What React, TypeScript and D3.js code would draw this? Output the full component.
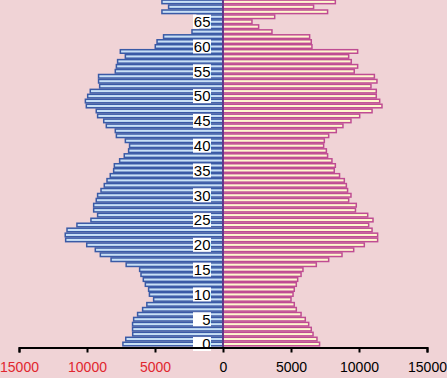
import { useEffect, useRef } from "react";
import * as d3 from "d3";

// ages 0..69, bottom to top
const ages = d3.range(0, 70);

const male = [
  7360, 7150, 6640, 6650, 6650, 6570, 6280, 5910, 5600, 5100,
  5410, 5470, 5710, 5860, 6030, 6130, 7120, 8230, 9020, 9390,
  10020, 11570, 11600, 11470, 10740, 9710, 9220, 9510, 9510, 9320,
  9220, 8970, 8730, 8530, 8290, 8040, 7990, 7600, 7260, 6940,
  6870, 7180, 7840, 7920, 8580, 8770, 9220, 9320, 10050, 10120,
  9950, 9760, 9070, 9150, 9150, 7920, 7840, 7750, 7180, 7550,
  4980, 4850, 4370, 2280, 1700, 1600, 1900, 4490, 4000, 4490,
];

const female = [
  7100, 6910, 6620, 6490, 6300, 6050, 5740, 5390, 5240, 5000,
  5150, 5240, 5390, 5490, 5740, 5880, 6860, 7770, 8750, 9610,
  10390, 11370, 11370, 10960, 10710, 11030, 10640, 9740, 9800, 9240,
  9410, 9160, 9070, 8920, 8570, 8180, 8260, 8010, 7690, 7600,
  7400, 7450, 7770, 8330, 8820, 9410, 10050, 10960, 11690, 11520,
  11270, 11270, 10880, 11320, 11130, 9650, 9900, 9430, 9240, 9900,
  6540, 6490, 6370, 3600, 2620, 2130, 3800, 7690, 6660, 8260,
];

const xTicks = [-15000, -10000, -5000, 0, 5000, 10000, 15000];
const ageLabels = [0, 5, 10, 15, 20, 25, 30, 35, 40, 45, 50, 55, 60, 65];

const W = 447;
const H = 378;

const Pyramid = () => {
  const svgRef = useRef<SVGSVGElement>(null);

  useEffect(() => {
    const svg = d3.select(svgRef.current);
    svg.selectAll("*").remove();

    const x = d3.scaleLinear().domain([-15000, 15000]).range([19, 427]);
    const y = d3
      .scaleBand<number>()
      .domain(ages)
      .range([346.5, -0.6])
      .padding(0);
    const bh = y.bandwidth();
    const axisY = 347.5;

    svg.append("rect").attr("width", W).attr("height", H).attr("fill", "#f0d3d6");

    // male bars
    svg
      .append("g")
      .selectAll("rect")
      .data(ages)
      .enter()
      .append("rect")
      .attr("x", (a) => x(-male[a]))
      .attr("y", (a) => (y(a) as number) + 0.7)
      .attr("width", (a) => x(0) - x(-male[a]))
      .attr("height", bh - 1.4)
      .attr("fill", "#c8e0f6")
      .attr("stroke", "#3a5aa6")
      .attr("stroke-width", 1.5);

    // female bars
    svg
      .append("g")
      .selectAll("rect")
      .data(ages)
      .enter()
      .append("rect")
      .attr("x", x(0))
      .attr("y", (a) => (y(a) as number) + 0.7)
      .attr("width", (a) => x(female[a]) - x(0))
      .attr("height", bh - 1.4)
      .attr("fill", "#fff7cf")
      .attr("stroke", "#bf4c93")
      .attr("stroke-width", 1.5);

    // center line
    svg
      .append("line")
      .attr("x1", x(0))
      .attr("x2", x(0))
      .attr("y1", 0)
      .attr("y2", axisY)
      .attr("stroke", "#4a2f86")
      .attr("stroke-width", 1.5);

    // age labels with white boxes
    const lab = svg.append("g");
    ageLabels.forEach((a) => {
      const cy = (y(a) as number) + bh / 2;
      lab
        .append("rect")
        .attr("x", 193)
        .attr("y", cy - 7)
        .attr("width", 18)
        .attr("height", 14)
        .attr("fill", "#ffffff");
      lab
        .append("text")
        .attr("x", 210.5)
        .attr("y", cy)
        .attr("dy", "0.36em")
        .attr("text-anchor", "end")
        .style("font-family", "'Liberation Sans', Arial, sans-serif")
        .style("font-size", "15px")
        .attr("fill", "#000")
        .text(a);
    });

    // x axis
    const xAxis = d3
      .axisBottom(x)
      .tickValues(xTicks)
      .tickSize(5)
      .tickFormat((d) => String(Math.abs(d as number)));
    const gx = svg
      .append("g")
      .attr("transform", `translate(0, ${axisY})`)
      .call(xAxis);
    gx.select(".domain").attr("stroke", "#000").attr("stroke-width", 2);
    gx.selectAll(".tick line").attr("stroke", "#000").attr("stroke-width", 2);
    gx.selectAll(".tick text")
      .attr("y", 23)
      .attr("dy", "0.1em")
      .style("font-family", "'Liberation Sans', Arial, sans-serif")
      .style("font-size", "14px")
      .attr("fill", (d) => ((d as number) < 0 ? "#e0262e" : "#000"));
  }, []);

  return (
    <svg
      ref={svgRef}
      width={W}
      height={H}
      viewBox={`0 0 ${W} ${H}`}
      style={{ position: "fixed", left: 0, top: 0, display: "block" }}
    ></svg>
  );
};

export default function App() {
  return <Pyramid />;
}
